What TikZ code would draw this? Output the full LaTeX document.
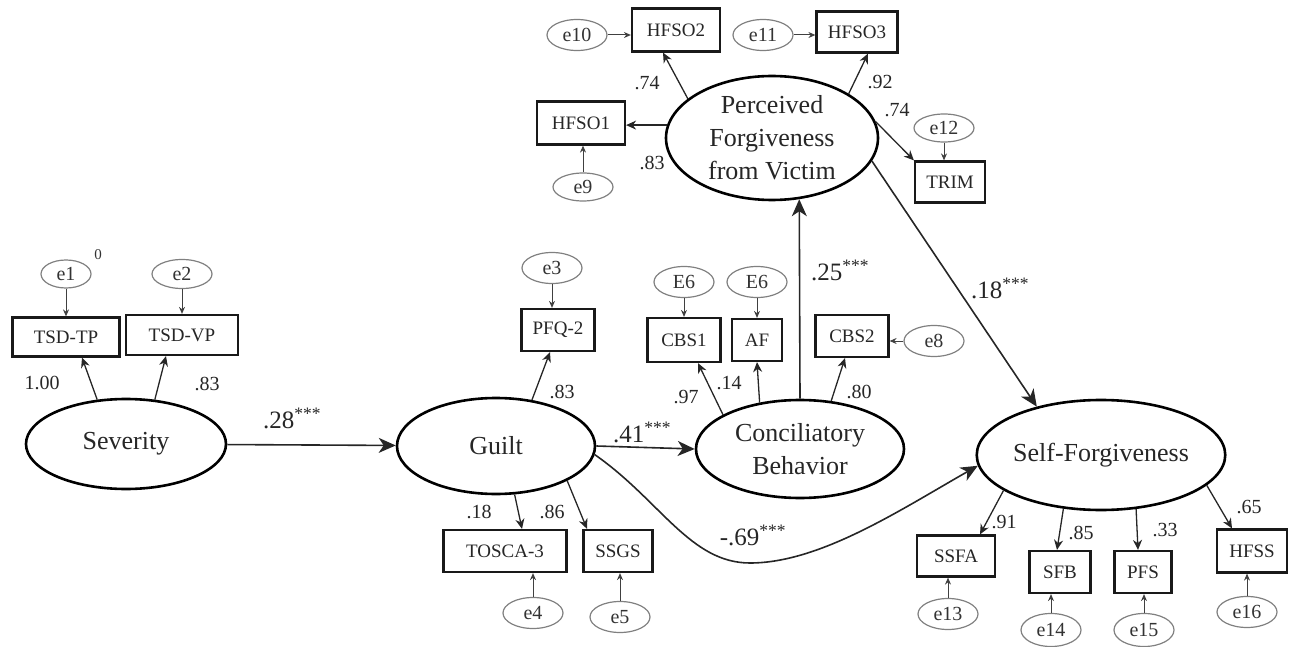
\documentclass[tikz,border=0pt]{standalone}
\usepackage{fontspec}
\setmainfont{Liberation Serif}
\usetikzlibrary{shapes.geometric,arrows.meta}
\newcommand\sigstars{\textsuperscript{***}}
\begin{document}
\begin{tikzpicture}[x=1pt,y=-1pt,
 latent/.style={ellipse,draw=black,line width=2.6pt,inner sep=0pt,align=center,font=\fontsize{26}{33}\selectfont,text=black!85},
 obs/.style={rectangle,draw=black!90,line width=2.2pt,inner sep=0pt,minimum height=42pt,font=\fontsize{19}{22}\selectfont,text=black!85},
 err/.style={ellipse,draw=black!50,line width=1.2pt,inner sep=0pt,minimum width=60pt,minimum height=31pt,font=\fontsize{20}{22}\selectfont,text=black!80},
 patharr/.style={line width=1.6pt,draw=black!85,-{Stealth[length=17pt,width=15pt,inset=5pt]}},
 loadarr/.style={line width=1.3pt,draw=black!85,-{Stealth[length=10pt,width=9pt]}},
 errarr/.style={line width=1pt,draw=black!75,-{Stealth[length=7pt,width=6pt]}},
 coefL/.style={font=\fontsize{20}{22}\selectfont,text=black!85,inner sep=0pt},
 coefP/.style={font=\fontsize{25}{28}\selectfont,text=black!85,inner sep=0pt},
]
\useasboundingbox (0,0) rectangle (1291,647);

% latent variables
\node[latent,minimum width=200pt,minimum height=90pt] (sev) at (126,444) {Severity};
\node[latent,minimum width=198pt,minimum height=96pt] (guilt) at (496,446) {Guilt};
\node[latent,minimum width=208pt,minimum height=98pt] (conc) at (800,449) {Conciliatory\\Behavior};
\node[latent,minimum width=212pt,minimum height=124pt] (perc) at (772,138) {Perceived\\Forgiveness\\from Victim};
\node[latent,minimum width=224pt,minimum height=110pt] (self) at (1101,455) {Self-Forgiveness};

% observed variables
\node[obs,minimum width=107pt,minimum height=39pt] (tsdtp) at (66,337) {TSD-TP};
\node[obs,minimum width=112pt,minimum height=40pt] (tsdvp) at (182,335) {TSD-VP};
\node[obs,minimum width=73pt] (pfq) at (558,330) {PFQ-2};
\node[obs,minimum width=73pt,minimum height=44pt] (cbs1) at (684,340) {CBS1};
\node[obs,minimum width=50pt] (af) at (757,340) {AF};
\node[obs,minimum width=73pt] (cbs2) at (852,336) {CBS2};
\node[obs,minimum width=123pt] (tosca) at (505,551) {TOSCA-3};
\node[obs,minimum width=69pt] (ssgs) at (618,551) {SSGS};
\node[obs,minimum width=88pt,minimum height=43pt] (hfso2) at (676,30) {HFSO2};
\node[obs,minimum width=81pt,minimum height=41pt] (hfso3) at (857,32) {HFSO3};
\node[obs,minimum width=88pt,minimum height=43pt] (hfso1) at (581,123) {HFSO1};
\node[obs,minimum width=70pt,minimum height=41pt] (trim) at (950,182) {TRIM};
\node[obs,minimum width=78pt,minimum height=41pt] (ssfa) at (956,556) {SSFA};
\node[obs,minimum width=61pt] (sfb) at (1060,572) {SFB};
\node[obs,minimum width=57pt] (pfs) at (1143,572) {PFS};
\node[obs,minimum width=70pt,minimum height=43pt] (hfss) at (1252,551) {HFSS};

% error terms
\node[err,minimum width=50pt,minimum height=28pt] (e1) at (66,274) {e1};
\node[err,minimum height=29pt] (e2) at (182,274) {e2};
\node[err] (e3) at (552,268) {e3};
\node[err] (e4) at (533,613) {e4};
\node[err] (e5) at (620,617) {e5};
\node[err] (e6a) at (684,282) {E6};
\node[err] (e6b) at (757,282) {E6};
\node[err] (e8) at (934,341) {e8};
\node[err,minimum height=28pt] (e9) at (583,187) {e9};
\node[err] (e10) at (577,35) {e10};
\node[err] (e11) at (763,35) {e11};
\node[err,minimum height=28pt] (e12) at (944,128) {e12};
\node[err] (e13) at (948,614) {e13};
\node[err,minimum height=33pt] (e14) at (1051,630) {e14};
\node[err,minimum height=33pt] (e15) at (1144,630) {e15};
\node[err] (e16) at (1247,612) {e16};
\node[font=\fontsize{15}{16}\selectfont,text=black!80,inner sep=0pt] (zero) at (98,255) {0};

% structural paths
\draw[patharr] (sev) -- (guilt);
\draw[patharr] (guilt.east) -- (conc.west);
\draw[patharr] (conc.north) -- (perc.-66);
\draw[patharr] (perc.-13) -- (self.143);
\coordinate (dip) at (750,563);
\draw[patharr] (guilt.-5) .. controls (660,500) and (690,563) .. (dip)
  .. controls (820,563) and (900,510) .. (self.185);

% loadings
\draw[loadarr] (sev.123) -- ([xshift=16pt]tsdtp.south);
\draw[loadarr] (sev.57) -- ([xshift=-16pt]tsdvp.south);
\draw[loadarr] (guilt.52) -- ([xshift=-8pt]pfq.south);
\draw[loadarr] (guilt.-69) -- ([xshift=17pt]tosca.north);
\draw[loadarr] (guilt.-26) -- ([xshift=-31pt]ssgs.north);
\draw[loadarr] (conc.156) -- ([xshift=14pt]cbs1.south);
\draw[loadarr] (conc.131) -- (af.south);
\draw[loadarr] (conc.57) -- ([xshift=-7pt]cbs2.south);
\draw[loadarr] (perc.155) -- ([xshift=-13pt]hfso2.south);
\draw[loadarr] (perc.30) -- ([xshift=11pt]hfso3.south);
\draw[loadarr] (perc.173) -- (perc.173 -| hfso1.east);
\draw[loadarr] (perc.9) -- (trim.north west);
\draw[loadarr] (self.-160) -- ([xshift=24pt]ssfa.north);
\draw[loadarr] (self.-125) -- ([xshift=-3pt]sfb.north);
\draw[loadarr] (self.-57) -- ([xshift=-5pt]pfs.north);
\draw[loadarr] (self.-16) -- ([xshift=-20pt]hfss.north);

% error arrows
\draw[errarr] (e1.south) -- (e1.south |- tsdtp.north);
\draw[errarr] (e2.south) -- (e2.south |- tsdvp.north);
\draw[errarr] (e3.south) -- (e3.south |- pfq.north);
\draw[errarr] (e6a.south) -- (e6a.south |- cbs1.north);
\draw[errarr] (e6b.south) -- (e6b.south |- af.north);
\draw[errarr] (e8.west) -- (e8.west -| cbs2.east);
\draw[errarr] (e4.north) -- (e4.north |- tosca.south);
\draw[errarr] (e5.north) -- (e5.north |- ssgs.south);
\draw[errarr] (e9.north) -- (e9.north |- hfso1.south);
\draw[errarr] (e10.east) -- (e10.east -| hfso2.west);
\draw[errarr] (e11.east) -- (e11.east -| hfso3.west);
\draw[errarr] (e12.south) -- (e12.south |- trim.north);
\draw[errarr] (e13.north) -- (e13.north |- ssfa.south);
\draw[errarr] (e14.north) -- (e14.north |- sfb.south);
\draw[errarr] (e15.north) -- (e15.north |- pfs.south);
\draw[errarr] (e16.north) -- (e16.north |- hfss.south);

% coefficients
\node[coefP] (c28) at (292,418) {.28\sigstars};
\node[coefP] (c41) at (642,432) {.41\sigstars};
\node[coefP] (c25) at (840,270) {.25\sigstars};
\node[coefP] (c18) at (1000,288) {.18\sigstars};
\node[coefP] (c69) at (753,535) {-.69\sigstars};
\node[coefL] (l100) at (42,383) {1.00};
\node[coefL] (l83a) at (207,384) {.83};
\node[coefL] (l83b) at (562,392) {.83};
\node[coefL] (l97) at (686,397) {.97};
\node[coefL] (l14) at (729,383) {.14};
\node[coefL] (l80) at (859,392) {.80};
\node[coefL] (l18) at (479,512) {.18};
\node[coefL] (l86) at (552,512) {.86};
\node[coefL] (l74a) at (647,83) {.74};
\node[coefL] (l83c) at (652,163) {.83};
\node[coefL] (l92) at (880,82) {.92};
\node[coefL] (l74b) at (897,110) {.74};
\node[coefL] (l91) at (1004,522) {.91};
\node[coefL] (l85) at (1081,533) {.85};
\node[coefL] (l33) at (1165,530) {.33};
\node[coefL] (l65) at (1249,507) {.65};
\end{tikzpicture}
\end{document}
